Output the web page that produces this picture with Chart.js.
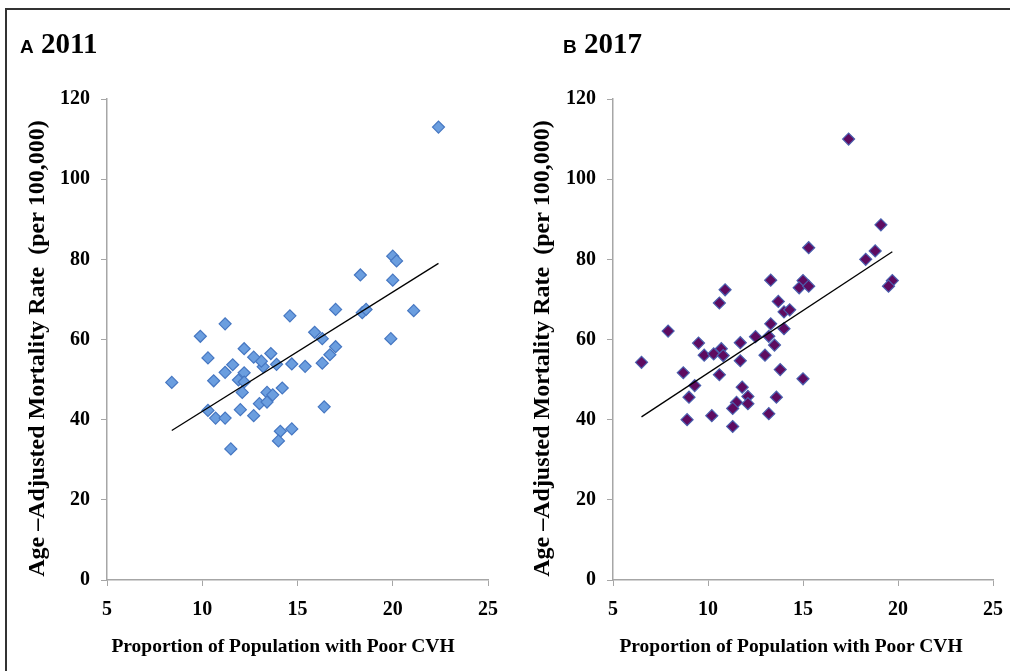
<!DOCTYPE html>
<html>
<head>
<meta charset="utf-8">
<script src="https://cdn.jsdelivr.net/npm/chart.js@4.4.1/dist/chart.umd.min.js"></script>
<style>
  body { margin: 0; background: #fff; }
  #wrap { position: relative; width: 1010px; height: 671px; overflow: hidden; }
  .frame { position: absolute; left: 5px; top: 8px; width: 1100px; height: 700px;
           border-top: 2px solid #333; border-left: 2px solid #333; }
  canvas { position: absolute; top: 0; }
  .head { position: absolute; top: 27px; font-weight: bold; white-space: nowrap; }
  .head .tag { font-family: "Liberation Sans", Arial, sans-serif; font-size: 19px; }
  .head .yr { font-family: "Liberation Serif", "Times New Roman", serif; font-size: 29px; }
  .xt { position: absolute; top: 635px; width: 400px; text-align: center;
        font: bold 19.5px "Liberation Serif", "Times New Roman", serif; }
</style>
</head>
<body>
<div id="wrap">
  <div class="frame"></div>
  <canvas id="c2011" width="505" height="671" style="left:0"></canvas>
  <canvas id="c2017" width="505" height="671" style="left:505px"></canvas>
  <div class="head" style="left:20px"><span class="tag">A</span><span class="yr"> 2011</span></div>
  <div class="head" style="left:563px"><span class="tag">B</span><span class="yr"> 2017</span></div>
  <div class="xt" style="left:83px">Proportion of Population with Poor CVH</div>
  <div class="xt" style="left:591px">Proportion of Population with Poor CVH</div>
</div>
<script>
// 2011 panel
var x2011 = [22.4, 20.0, 20.2, 18.3, 20.0, 17.0, 18.4, 18.6, 21.1, 14.6, 11.2, 9.9, 15.9, 16.3, 19.9, 17.0, 16.7, 16.3, 15.4, 14.7, 13.9, 13.6, 13.2, 13.1, 12.7, 12.2, 10.3, 11.6, 11.2, 12.2, 11.9, 12.2, 10.6, 8.4, 12.1, 13.4, 13.7, 14.2, 13.0, 13.4, 10.3, 12.0, 16.4, 10.7, 11.2, 12.7, 14.1, 14.7, 14.0, 11.5];
var y2011 = [113, 80.8, 79.6, 76.1, 74.8, 67.5, 66.7, 67.5, 67.2, 65.9, 63.9, 60.8, 61.8, 60.2, 60.2, 58.2, 56.2, 54.1, 53.3, 53.9, 53.8, 56.5, 53.2, 54.6, 55.6, 57.7, 55.4, 53.7, 51.8, 51.7, 49.9, 49.4, 49.7, 49.3, 46.8, 46.8, 46.2, 47.9, 44.0, 44.4, 42.3, 42.5, 43.2, 40.4, 40.4, 41.0, 37.1, 37.7, 34.7, 32.7];
var trend2011X = [8.4, 22.4];
var trend2011Y = [37.3, 79.0];

// 2017 panel
var x2017 = [17.4, 19.1, 15.3, 18.8, 18.3, 19.7, 19.5, 13.3, 15.0, 14.8, 15.3, 10.9, 10.6, 13.7, 14.0, 14.3, 13.3, 14.0, 7.9, 12.5, 13.2, 6.5, 9.5, 9.8, 10.3, 10.7, 10.8, 11.7, 11.7, 13.5, 13.0, 13.8, 15.0, 8.7, 10.6, 9.3, 11.8, 9.0, 12.1, 12.1, 13.6, 11.5, 11.3, 8.9, 10.2, 13.2, 11.3];
var y2017 = [110, 88.6, 82.9, 82.1, 80, 74.7, 73.3, 74.8, 74.7, 72.9, 73.3, 72.4, 69.1, 69.5, 66.9, 67.4, 63.9, 62.7, 62.1, 60.7, 60.8, 54.3, 59.1, 56.1, 56.4, 57.7, 56, 59.2, 54.7, 58.6, 56.1, 52.5, 50.2, 51.7, 51.2, 48.5, 48.1, 45.6, 45.8, 44, 45.6, 44.3, 42.8, 40, 41, 41.5, 38.3];
var trend2017X = [6.5, 19.7];
var trend2017Y = [40.7, 81.9];

var xTicks = [5, 10, 15, 20, 25];
var yTicks = [0, 20, 40, 60, 80, 100, 120];
// trailing spaces push the centred title a little down, as in the original
var yTitle = "Age \u2013Adjusted Mortality Rate  (per 100,000)   ";

function pts(xs, ys) {
  return xs.map(function (x, i) { return { x: x, y: ys[i] }; });
}

var serif = "'Liberation Serif', 'Times New Roman', serif";
var axisGray = "#a6a6a6";

function makeChart(id, xs, ys, tx, ty, fill, border, yWidth) {
  new Chart(document.getElementById(id), {
    type: "scatter",
    data: {
      datasets: [
        {
          data: pts(xs, ys),
          pointStyle: "rectRot",
          pointRadius: 6,
          pointHoverRadius: 6,
          backgroundColor: fill,
          borderColor: border,
          borderWidth: 1.2,
          order: 2
        },
        {
          type: "line",
          data: pts(tx, ty),
          borderColor: "#000",
          borderWidth: 1.3,
          pointRadius: 0,
          fill: false,
          order: 1
        }
      ]
    },
    options: {
      responsive: false,
      animation: false,
      devicePixelRatio: 1,
      layout: { padding: { top: 99, left: 0, right: 17, bottom: 0 } },
      plugins: { legend: { display: false }, tooltip: { enabled: false } },
      scales: {
        x: {
          type: "linear",
          min: xTicks[0],
          max: xTicks[xTicks.length - 1],
          afterBuildTicks: function (s) { s.ticks = xTicks.map(function (v) { return { value: v }; }); },
          afterFit: function (s) { s.height = 91; s.paddingLeft = 0; s.paddingRight = 0; },
          border: { color: axisGray, width: 1.5 },
          grid: { drawOnChartArea: false, drawTicks: true, tickLength: 6, color: axisGray, lineWidth: 1 },
          ticks: { color: "#000", padding: 12, font: { family: serif, size: 20, weight: "bold" } }
        },
        y: {
          type: "linear",
          min: yTicks[0],
          max: yTicks[yTicks.length - 1],
          afterBuildTicks: function (s) { s.ticks = yTicks.map(function (v) { return { value: v }; }); },
          afterFit: function (s) { s.width = yWidth; s.paddingTop = 0; s.paddingBottom = 0; },
          border: { color: axisGray, width: 1.5 },
          grid: { drawOnChartArea: false, drawTicks: true, tickLength: 6, color: axisGray, lineWidth: 1 },
          ticks: { color: "#000", padding: 11, font: { family: serif, size: 20, weight: "bold" } },
          title: {
            display: true,
            text: yTitle,
            color: "#000",
            padding: { top: 23, bottom: 0 },
            font: { family: serif, size: 24, weight: "bold" }
          }
        }
      }
    }
  });
}

makeChart("c2011", x2011, y2011, trend2011X, trend2011Y, "#6b9edf", "#4677c2", 107);
makeChart("c2017", x2017, y2017, trend2017X, trend2017Y, "#5e0b60", "#4a5fae", 108);
</script>
</body>
</html>
